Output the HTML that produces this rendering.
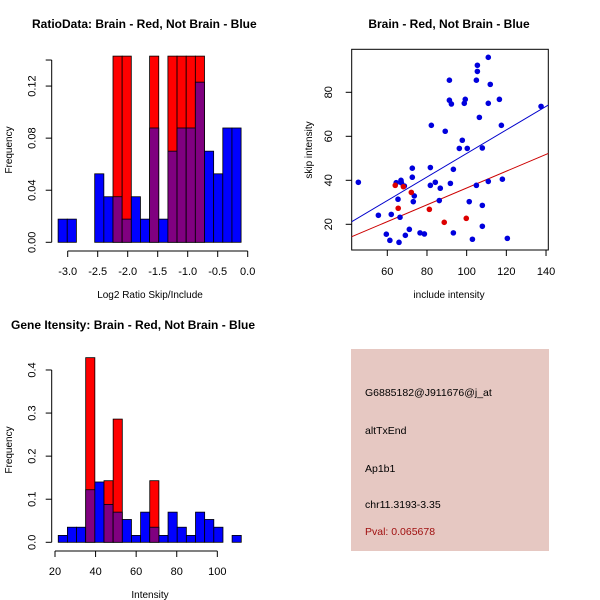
<!DOCTYPE html>
<html><head><meta charset="utf-8"><style>
body{margin:0;background:#fff;}
svg{display:block;font-family:"Liberation Sans",sans-serif;}
</style></head><body>
<svg id="c" width="600" height="600" xmlns="http://www.w3.org/2000/svg">
<rect width="600" height="600" fill="#fff"/>
<text x="32" y="28" font-size="12" font-weight="bold">RatioData: Brain - Red, Not Brain - Blue</text>
<text x="449" y="28" font-size="12" font-weight="bold" text-anchor="middle">Brain - Red, Not Brain - Blue</text>
<text x="11" y="329" font-size="12" font-weight="bold">Gene Itensity: Brain - Red, Not Brain - Blue</text>
<text x="150" y="298" font-size="10" text-anchor="middle">Log2 Ratio Skip/Include</text>
<text transform="translate(12,150) rotate(-90)" font-size="10" text-anchor="middle">Frequency</text>
<text x="449" y="298" font-size="10" text-anchor="middle">include intensity</text>
<text transform="translate(312,150) rotate(-90)" font-size="10" text-anchor="middle">skip intensity</text>
<text x="150" y="598" font-size="10" text-anchor="middle">Intensity</text>
<text transform="translate(12,450) rotate(-90)" font-size="10" text-anchor="middle">Frequency</text>
<g>
<rect x="351" y="349" width="198" height="202" fill="#e6c8c2"/>
<text x="365" y="396" font-size="10.5">G6885182@J911676@j_at</text>
<text x="365" y="434" font-size="10.5">altTxEnd</text>
<text x="365" y="472" font-size="10.5">Ap1b1</text>
<text x="365" y="508" font-size="10.5">chr11.3193-3.35</text>
<text x="365" y="535" font-size="10.5" fill="#a01010">Pval: 0.065678</text>
</g>
</svg>
<script>
// Ratio histogram data
const ratioBinStart = -3.16;
const ratioBinWidth = 0.1525;
const ratioBlue = [0.0178,0.0178,0,0,0.0526,0.035,0.035,0.0178,0.035,0.0178,0.0878,0.0178,0.070,0.0878,0.0878,0.123,0.070,0.0526,0.0878,0.0878];
const ratioRed  = [0,0,0,0,0,0,0.143,0.143,0,0,0.143,0,0.143,0.143,0.143,0.143,0,0,0,0];
const ratioXTicks = [-3.0,-2.5,-2.0,-1.5,-1.0,-0.5,0.0];
const ratioYTicks = [0.00,0.04,0.08,0.12];
// Intensity histogram data
const intBinStart = 21.6;
const intBinWidth = 4.51;
const intBlue = [0.016,0.035,0.035,0.122,0.14,0.088,0.070,0.053,0.016,0.070,0.035,0.016,0.070,0.035,0.016,0.070,0.053,0.035,0,0.016];
const intRed  = [0,0,0,0.4286,0,0.143,0.286,0,0,0,0.143,0,0,0,0,0,0,0,0,0];
const intXTicks = [20,40,60,80,100];
const intYTicks = [0.0,0.1,0.2,0.3,0.4];
// Scatter data
const blueX = [45.4,55.5,59.5,61.3,62.0,64.5,65.4,65.9,66.4,66.9,67.1,68.6,69.1,71.1,72.6,72.6,73.1,73.6,76.5,78.7,82.2,81.7,81.7,84.2,86.2,86.7,89.2,91.3,91.3,92.3,91.8,93.3,93.3,97.8,96.3,98.8,99.3,100.3,101.3,102.9,104.9,104.9,105.4,105.4,106.4,107.9,107.9,107.9,110.9,110.9,110.9,111.9,116.5,117.5,118.0,120.5,137.5];
const blueY = [39.1,24.1,15.5,12.7,24.5,38.9,31.4,11.8,23.2,40,38.9,37.4,15,17.7,45.5,41.4,30.3,32.9,16.1,15.6,65,45.8,37.7,39.1,30.8,36.4,62.3,85.5,76.4,74.7,38.6,45,16.1,58.2,54.5,75,76.8,54.5,30.3,13.2,37.7,85.5,92.3,89.5,68.6,54.7,28.6,19.1,95.9,75,39.5,83.6,76.8,65,40.5,13.6,73.6];
const redX = [64.0,65.5,68.1,72.1,81.2,88.7,99.8];
const redY = [37.7,27.3,37.1,34.5,26.8,20.9,22.7];
const blueFit = [-1.3,0.535];
const redFit = [-1.7,0.382];
const scXTicks = [60,80,100,120,140];
const scYTicks = [20,40,60,80];

const NS="http://www.w3.org/2000/svg", svg=document.getElementById('c');
function mk(tag,attrs,parent){const e=document.createElementNS(NS,tag);for(const k in attrs)e.setAttribute(k,attrs[k]);(parent||svg).appendChild(e);return e;}

function hist(opts){
  const g=mk('g',{});
  
  
  const X=opts.X, Y=opts.Y;
  for(let i=0;i<opts.blue.length;i++){
    const x0=X(opts.start+i*opts.width), x1=X(opts.start+(i+1)*opts.width);
    const b=opts.blue[i], r=opts.red[i];
    const draw=(v,col,nm)=>{if(v<=0)return;const y=Y(v);const e=mk('rect',{x:x0,y:y,width:x1-x0,height:Y(0)-y,fill:col,stroke:'#000','stroke-width':0.8},g);
      
      };
    if(r>b){draw(r,'#ff0000','red-bar');draw(b,'#800080','overlap-bar');}
    else{draw(b,'#0000ff','blue-bar');draw(r,'#800080','overlap-bar');}
  }
  const xa=mk('g',{});
  
  
  const t=opts.xt;
  mk('line',{x1:X(t[0]),x2:X(t[t.length-1]),y1:opts.xAxisY,y2:opts.xAxisY,stroke:'#000'},xa);
  t.forEach(v=>{mk('line',{x1:X(v),x2:X(v),y1:opts.xAxisY,y2:opts.xAxisY+6,stroke:'#000'},xa);
    const tx=mk('text',{x:X(v),y:opts.xAxisY+24,'font-size':11,'text-anchor':'middle'},xa);tx.textContent=opts.xfmt(v);});
  const ya=mk('g',{});
  
  
  const yt=opts.yt;
  mk('line',{x1:opts.yAxisX,x2:opts.yAxisX,y1:Y(yt[0]),y2:Y(opts.yTop),stroke:'#000'},ya);
  yt.concat(opts.yExtra||[]).forEach(v=>{mk('line',{x1:opts.yAxisX,x2:opts.yAxisX-6,y1:Y(v),y2:Y(v),stroke:'#000'},ya);});
  yt.forEach(v=>{const tx=mk('text',{transform:`translate(${opts.yAxisX-16},${Y(v)}) rotate(-90)`,'font-size':11,'text-anchor':'middle'},ya);tx.textContent=opts.yfmt(v);});
}
hist({name:'ratio-histogram',start:ratioBinStart,width:ratioBinWidth,blue:ratioBlue,red:ratioRed,
  X:v=>67.7+(v+3)*60,Y:v=>242.3-v*1302,xt:ratioXTicks,yt:ratioYTicks,yTop:0.14,yExtra:[0.14],
  xAxisY:251,yAxisX:51.7,xfmt:v=>v.toFixed(1),yfmt:v=>v.toFixed(2)});
hist({name:'intensity-histogram',start:intBinStart,width:intBinWidth,blue:intBlue,red:intRed,
  X:v=>55+(v-20)*2.029,Y:v=>542.3-v*430.8,xt:intXTicks,yt:intYTicks,yTop:0.4,
  xAxisY:551,yAxisX:51.7,xfmt:v=>String(v),yfmt:v=>v.toFixed(1)});

const SX=v=>387.3+(v-60)*1.984, SY=v=>224.3-(v-20)*2.2;
const sg=mk('g',{});


const box=mk('rect',{x:351.7,y:49.3,width:196.6,height:200.7,fill:'none',stroke:'#000'},sg);


const clip=mk('clipPath',{id:'sc'},sg);mk('rect',{x:351.7,y:49.3,width:196.6,height:200.7},clip);
const xmin=42.06,xmax=141.15;
[[blueFit,'#0000cc','blue-fit-line'],[redFit,'#cc0000','red-fit-line']].forEach(([f,c,n])=>{
  const l=mk('line',{x1:SX(xmin),y1:SY(f[0]+f[1]*xmin),x2:SX(xmax),y2:SY(f[0]+f[1]*xmax),stroke:c,'clip-path':'url(#sc)'},sg);
  
  
});
blueX.forEach((x,i)=>{const p=mk('circle',{cx:SX(x),cy:SY(blueY[i]),r:2.8,fill:'#0000dd'},sg);
  
  });
redX.forEach((x,i)=>{const p=mk('circle',{cx:SX(x),cy:SY(redY[i]),r:2.8,fill:'#dd0000'},sg);
  
  });
const sxa=mk('g',{});


scXTicks.forEach(v=>{mk('line',{x1:SX(v),x2:SX(v),y1:250,y2:256,stroke:'#000'},sxa);
  const t=mk('text',{x:SX(v),y:275,'font-size':11,'text-anchor':'middle'},sxa);t.textContent=v;});
const sya=mk('g',{});


scYTicks.forEach(v=>{mk('line',{x1:351.7,x2:345.7,y1:SY(v),y2:SY(v),stroke:'#000'},sya);
  const t=mk('text',{transform:`translate(332,${SY(v)}) rotate(-90)`,'font-size':11,'text-anchor':'middle'},sya);t.textContent=v;});
</script>
</body></html>
